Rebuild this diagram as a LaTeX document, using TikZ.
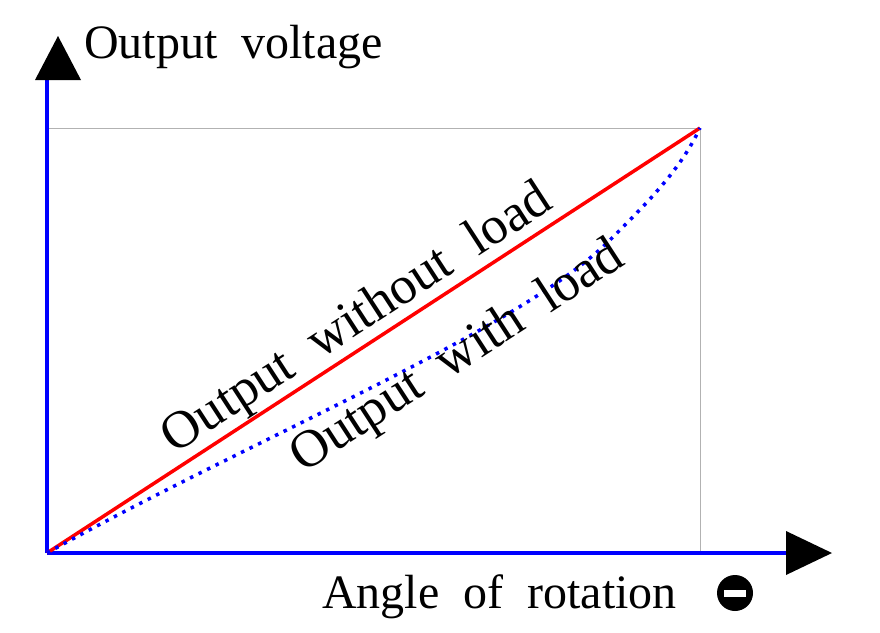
\documentclass[tikz,border=0pt]{standalone}
\usepackage{fontspec}
\setmainfont{Liberation Serif}
\usetikzlibrary{arrows.meta}
\begin{document}
\begin{tikzpicture}[x=1pt,y=-1pt,
  ax/.style={blue,line width=4pt},
  lbl/.style={font=\fontsize{48}{52}\selectfont,inner sep=0pt},
  rlbl/.style={font=\fontsize{53}{56}\selectfont,inner sep=0pt,rotate=33}]
\useasboundingbox (0,0) rectangle (880,632);
\coordinate (O) at (47,553);
\coordinate (P) at (700,128);
\draw[gray!60,line width=1pt] (47,128) -- (P) -- (700,553);
\draw[ax] (O) -- (47,78);
\draw[ax] (O) -- (788,553);
\fill (35,80) -- (58,36) -- (81,80) -- cycle;
\fill (786,531) -- (832,553) -- (786,575) -- cycle;
\draw[red,line width=3.5pt] (O) -- (P);
\draw[blue,line width=3.5pt,dash pattern=on 3.5pt off 6pt] (O) .. controls (250,440) and (520,330) .. (610,240) .. controls (650,200) and (680,170) .. (P);
\node[lbl,anchor=base west] (yl) at (84,58) {Output\ \ voltage};
\node[lbl,anchor=base west] (xl) at (322,608) {Angle\ \ of\ \ rotation};
\fill (735,593) circle (18);
\fill[white] (724,590) rectangle (746,597);
\node[rlbl] (l1) at (358,320) {Output\ \ without\ \ load};
\node[rlbl] (l2) at (458,358) {Output\ \ with\ \ load};
\end{tikzpicture}
\end{document}
